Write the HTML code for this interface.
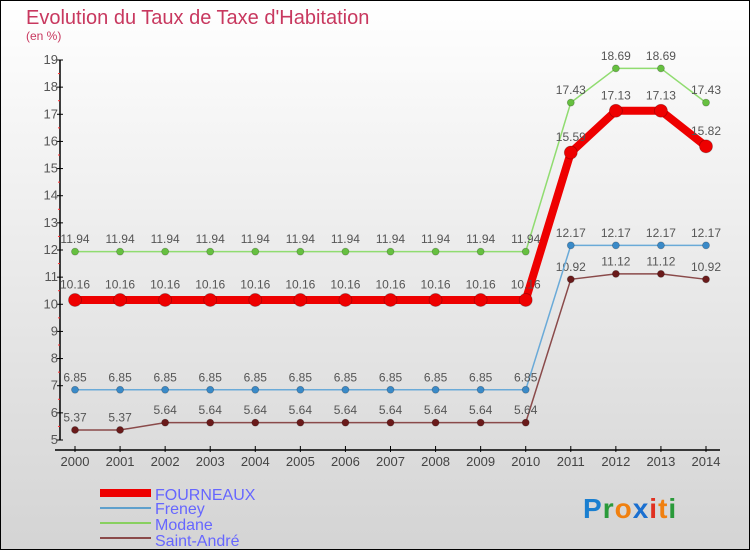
<!DOCTYPE html>
<html><head><meta charset="utf-8">
<style>
html,body{margin:0;padding:0}
body{width:750px;height:550px;overflow:hidden;font-family:"Liberation Sans",sans-serif}
svg text{font-family:"Liberation Sans",sans-serif}
</style></head>
<body>
<svg id="chart" width="750" height="550" xmlns="http://www.w3.org/2000/svg">
<defs>
<linearGradient id="bg" x1="0" y1="0" x2="0" y2="1">
<stop offset="0" stop-color="#ffffff"/><stop offset="1" stop-color="#d4d4d4"/>
</linearGradient>
</defs>
<rect x="0.5" y="0.5" width="749" height="549" fill="url(#bg)" stroke="#000"/>
<text x="26" y="24" font-size="20" fill="#c8385f">Evolution du Taux de Taxe d'Habitation</text>
<text x="26" y="40" font-size="12" fill="#c8385f">(en %)</text>
<g id="axes"></g>
<g id="series"></g>
<g id="legend">
<line x1="100" y1="493" x2="151" y2="493" stroke="#ee0000" stroke-width="8"/>
<text x="155" y="500" font-size="16" fill="#6666ff">FOURNEAUX</text>
<line x1="100" y1="508" x2="151" y2="508" stroke="#5fa0cc" stroke-width="2"/>
<text x="155" y="514" font-size="16" fill="#6666ff">Freney</text>
<line x1="100" y1="523" x2="151" y2="523" stroke="#88d060" stroke-width="2"/>
<text x="155" y="530" font-size="16" fill="#6666ff">Modane</text>
<line x1="100" y1="538" x2="151" y2="538" stroke="#8a4a4a" stroke-width="2"/>
<text x="155" y="546" font-size="16" fill="#6666ff">Saint-André</text>
</g>
<g font-size="28" font-weight="bold">
<text x="583" y="518" letter-spacing="1"><tspan fill="#1a7fd0">P</tspan><tspan fill="#2a9a3a">r</tspan><tspan fill="#f08010">o</tspan><tspan fill="#1a6fd0">x</tspan><tspan fill="#e03020">i</tspan><tspan fill="#f08010">t</tspan><tspan fill="#2a9a3a">i</tspan></text>
</g>
</svg>
<script>
const years=[2000,2001,2002,2003,2004,2005,2006,2007,2008,2009,2010,2011,2012,2013,2014];
const yTicks=[5,6,7,8,9,10,11,12,13,14,15,16,17,18,19];
const fourneaux=[10.16,10.16,10.16,10.16,10.16,10.16,10.16,10.16,10.16,10.16,10.16,15.59,17.13,17.13,15.82];
const freney=[6.85,6.85,6.85,6.85,6.85,6.85,6.85,6.85,6.85,6.85,6.85,12.17,12.17,12.17,12.17];
const modane=[11.94,11.94,11.94,11.94,11.94,11.94,11.94,11.94,11.94,11.94,11.94,17.43,18.69,18.69,17.43];
const saintAndre=[5.37,5.37,5.64,5.64,5.64,5.64,5.64,5.64,5.64,5.64,5.64,10.92,11.12,11.12,10.92];

const NS="http://www.w3.org/2000/svg";
function X(i){return 75+i*(706-75)/(years.length-1);}
function Y(v){return 440-(v-5)*(380/14);}
function mk(tag,attrs,parent){const e=document.createElementNS(NS,tag);for(const k in attrs)e.setAttribute(k,attrs[k]);parent.appendChild(e);return e;}
const axes=document.getElementById('axes');
let ya=mk('line',{x1:60,y1:Y(19),x2:60,y2:Y(5),stroke:'#000','stroke-width':1.5},axes);


yTicks.forEach(t=>{
  mk('line',{x1:57,y1:Y(t),x2:63,y2:Y(t),stroke:'#000'},axes);
  if(t<19) mk('line',{x1:58,y1:Y(t+0.5),x2:60,y2:Y(t+0.5),stroke:'#ff3030'},axes);
  let tx=mk('text',{x:58,y:Y(t)+4,'font-size':13,fill:'#555','text-anchor':'end'},axes);
  tx.textContent=t;
  
  
});
let xa=mk('line',{x1:55,y1:450,x2:720,y2:450,stroke:'#000','stroke-width':1.5},axes);


years.forEach((yr,i)=>{
  mk('line',{x1:X(i),y1:446,x2:X(i),y2:452,stroke:'#000'},axes);
  let tx=mk('text',{x:X(i),y:466,'font-size':13,fill:'#444','text-anchor':'middle'},axes);
  tx.textContent=yr;
  
  
});
const sg=document.getElementById('series');
function draw(vals,color,dot,w,r,name){
  const g=mk('g',{},sg);
  
  
  let p=mk('polyline',{points:vals.map((v,i)=>X(i)+','+Y(v)).join(' '),fill:'none',stroke:color,'stroke-width':w,'stroke-linejoin':'round'},g);
  
  
  vals.forEach((v,i)=>{
    let c=mk('circle',{cx:X(i),cy:Y(v),r:r,fill:dot,stroke:'rgba(0,0,0,0.25)','stroke-width':0.8},g);
    
    
    let t=mk('text',{x:X(i),y:Y(v)-(r+5),'font-size':12,fill:'#555','text-anchor':'middle'},g);
    t.textContent=String(v);
    
    
  });
}
draw(saintAndre,'#8a4a4a','#6a1a1a',1.5,3.5,'saint-andre');
draw(freney,'#6aaad8','#3a8ac8',1.5,3.5,'freney');
draw(modane,'#90dc70','#66c040',1.5,3.5,'modane');
draw(fourneaux,'#ee0000','#ee0000',8,6.5,'fourneaux');
</script>
</body></html>
